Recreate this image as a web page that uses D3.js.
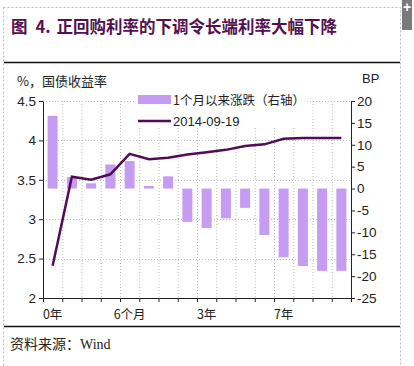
<!DOCTYPE html>
<html>
<head>
<meta charset="utf-8" />
<title>图 4</title>
<script src="https://cdn.jsdelivr.net/npm/d3@7/dist/d3.min.js"></script>
<style>
  body { margin: 0; background: #fff; }
  svg text { font-family: "Liberation Sans", Arial, "Noto Sans CJK SC", sans-serif; fill: #222; }
  .cjk { font-family: "Noto Sans CJK SC", sans-serif; }
  .axis path, .axis line { stroke: #222; }
  .grid line { stroke: #bbb; stroke-dasharray: 1,2; }
</style>
</head>
<body>
<svg width="414" height="366"></svg>
<script>
// maturities
var categories = ["0年","1个月","2个月","3个月","6个月","9个月","1年","2年","3年","4年","5年","6年","7年","8年","9年","10年"];
// 2014-09-19 yield, %
var yields = [2.41, 3.54, 3.50, 3.57, 3.83, 3.76, 3.78, 3.82, 3.85, 3.88, 3.93, 3.95, 4.02, 4.03, 4.03, 4.03];
// change over 1 month, BP (right axis)
var changes = [16.6, 2.6, 1.2, 5.5, 6.3, 0.6, 2.8, -7.6, -9.0, -6.8, -4.4, -10.6, -15.7, -17.7, -18.8, -18.8];
var leftTicks = [2, 2.5, 3, 3.5, 4, 4.5];
var rightTicks = [-25, -20, -15, -10, -5, 0, 5, 10, 15, 20];
var shownLabels = ["0年", "6个月", "3年", "7年"];

var barColor = "#c59cf2", lineColor = "#520c55";

var svg = d3.select("svg");
var pL = 43, pR = 351, pT = 101, pB = 298;

// page frame
svg.append("rect").attr("x", 3.5).attr("y", 7.5).attr("width", 397).attr("height", 370)
   .attr("fill", "none").attr("stroke", "#bbb").attr("stroke-dasharray", "2,2");
svg.append("rect").attr("x", 402).attr("y", 0).attr("width", 10).attr("height", 30).attr("fill", "#7a7a7a");
svg.append("text").attr("x", 407).attr("y", 12).attr("text-anchor", "middle")
   .style("fill", "#fff").style("font-size", "14px").style("font-weight", "bold").text("+");

var title = svg.append("text").attr("class", "cjk").attr("x", 11).attr("y", 33)
   .style("font-size", "16.5px").style("font-weight", "bold").style("fill", "#54104f");
title.append("tspan").text("图");
title.append("tspan").attr("dx", 8).text("4.");
title.append("tspan").attr("dx", 6).text("正回购利率的下调令长端利率大幅下降");

svg.append("line").attr("x1", 4).attr("x2", 400).attr("y1", 62.5).attr("y2", 62.5).attr("stroke", "#111").attr("stroke-width", 1.5);
svg.append("line").attr("x1", 4).attr("x2", 400).attr("y1", 326.5).attr("y2", 326.5).attr("stroke", "#111").attr("stroke-width", 1.5);

svg.append("text").attr("class", "cjk").attr("x", 10).attr("y", 349).style("font-size", "14px").text("资料来源：")
   .append("tspan").style("font-family", "'Liberation Serif', serif").text("Wind");

// scales
var x = d3.scaleBand().domain(categories).range([pL, pR]).paddingInner(0.48).paddingOuter(0.24);
var xEdge = d3.scaleLinear().domain([0, categories.length]).range([pL, pR]);
var yL = d3.scaleLinear().domain([2, 4.5]).range([pB, pT]);
var yR = d3.scaleLinear().domain([-25, 20]).range([pB, pT]);

// grid
var grid = svg.append("g").attr("class", "grid");
grid.selectAll(".v").data(d3.range(1, categories.length)).enter().append("line")
    .attr("x1", d => xEdge(d) + 0.5).attr("x2", d => xEdge(d) + 0.5).attr("y1", pT).attr("y2", pB);
grid.selectAll(".h").data(leftTicks.slice(1)).enter().append("line")
    .attr("x1", pL).attr("x2", pR).attr("y1", d => Math.round(yL(d)) + 0.5).attr("y2", d => Math.round(yL(d)) + 0.5);

// bars
svg.append("g").selectAll("rect").data(changes).enter().append("rect")
   .attr("x", (d, i) => x(categories[i]))
   .attr("width", x.bandwidth())
   .attr("y", d => yR(Math.max(0, d)))
   .attr("height", d => Math.abs(yR(d) - yR(0)))
   .attr("fill", barColor);

// line
var line = d3.line()
    .x((d, i) => x(categories[i]) + x.bandwidth() / 2)
    .y(d => yL(d));
svg.append("path").datum(yields).attr("d", line)
   .attr("fill", "none").attr("stroke", lineColor).attr("stroke-width", 2.5);

// axes
svg.append("g").attr("class", "axis").attr("transform", "translate(" + pL + ",0)")
   .call(d3.axisLeft(yL).tickValues(leftTicks).tickSize(4).tickSizeOuter(0).tickFormat(d3.format("")))
   .call(g => g.selectAll("text").style("font-size", "13.5px"));
svg.append("g").attr("class", "axis").attr("transform", "translate(" + pR + ",0)")
   .call(d3.axisRight(yR).tickValues(rightTicks).tickSize(4).tickSizeOuter(0).tickFormat(d => d < 0 ? "-" + Math.abs(d) : d))
   .call(g => g.selectAll("text").attr("x", 6).style("font-size", "13.5px"));
svg.append("g").attr("class", "axis").attr("transform", "translate(0," + pB + ")")
   .call(d3.axisBottom(xEdge).tickValues(d3.range(categories.length + 1)).tickSize(4).tickSizeOuter(0).tickFormat(""));
svg.append("g").attr("transform", "translate(0," + pB + ")")
   .call(d3.axisBottom(x).tickSize(0).tickPadding(12).tickFormat(d => shownLabels.indexOf(d) >= 0 ? d : ""))
   .call(g => g.select(".domain").remove())
   .call(g => g.selectAll("text").attr("class", "cjk").style("font-size", "12.5px"));

// axis titles
svg.append("text").attr("class", "cjk").attr("x", 17).attr("y", 86).style("font-size", "13px").text("%，国债收益率");
svg.append("text").attr("x", 362).attr("y", 83).style("font-size", "13px").text("BP");

// legend
var lg = svg.append("g");
lg.append("rect").attr("x", 134).attr("y", 89).attr("width", 172).attr("height", 39).attr("fill", "#fff");
lg.append("rect").attr("x", 138).attr("y", 95).attr("width", 33).attr("height", 9).attr("fill", barColor);
lg.append("text").attr("class", "cjk").attr("x", 173).attr("y", 104.5).style("font-size", "12.5px").text("1个月以来涨跌（右轴）");
lg.append("line").attr("x1", 138).attr("x2", 171).attr("y1", 121).attr("y2", 121).attr("stroke", lineColor).attr("stroke-width", 2.5);
lg.append("text").attr("x", 173).attr("y", 125.5).style("font-size", "13px").text("2014-09-19");
</script>
</body>
</html>
